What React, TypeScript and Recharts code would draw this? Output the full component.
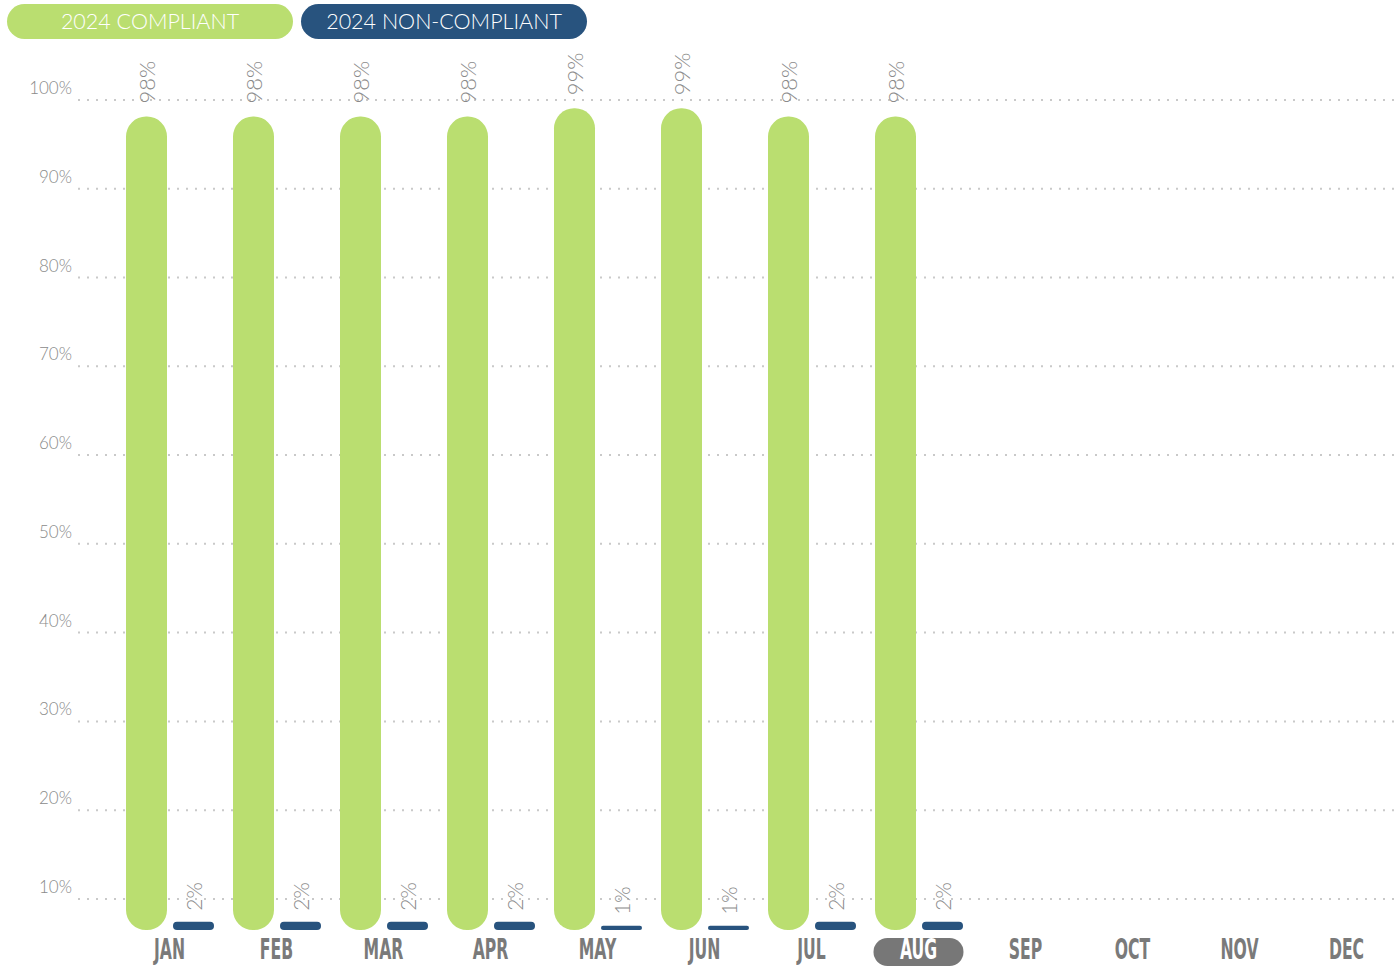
import { Bar, BarChart, CartesianGrid, XAxis, YAxis } from 'recharts';

const MONTHS = ['JAN', 'FEB', 'MAR', 'APR', 'MAY', 'JUN', 'JUL', 'AUG', 'SEP', 'OCT', 'NOV', 'DEC'];
const COMPLIANT = [98, 98, 98, 98, 99, 99, 98, 98, null, null, null, null];
const NON_COMPLIANT = [2, 2, 2, 2, 1, 1, 2, 2, null, null, null, null];
const Y_TICKS = [10, 20, 30, 40, 50, 60, 70, 80, 90, 100];
const CURRENT_MONTH = 'AUG';

const GREEN = '#bade70';
const BLUE = '#28537e';
const GRAY = '#8a8a8a';
const FONT = 'Lato, "Noto Sans", sans-serif';

// chart frame
const W = 1400;
const H = 967;
const TOP = 100;
const X_AXIS_H = 37;
const PLOT_BOTTOM = H - X_AXIS_H;
const Y_AXIS_W = 78;

const data = MONTHS.map((m, i) => ({
  month: m,
  compliant: COMPLIANT[i],
  nonCompliant: NON_COMPLIANT[i],
}));

// y-axis labels sit just above their dotted line, right-aligned to the axis gutter
function YTick(props: any) {
  const { y, payload } = props;
  return (
    <text x={Y_AXIS_W - 6} y={y - 6} textAnchor="end" fill={GRAY} fontSize={17} fontFamily={FONT} fontWeight={300}>
      {payload.value}%
    </text>
  );
}

// condensed bold month labels; current month gets a gray pill
function MonthTick(props: any) {
  const { x, payload } = props;
  const active = payload.value === CURRENT_MONTH;
  return (
    <g>
      {active && <rect x={x - 45} y={PLOT_BOTTOM + 8} width={90} height={28} rx={14} fill="#777" />}
      <text
        transform={`translate(${x},${PLOT_BOTTOM + 29}) scale(0.54,1)`}
        textAnchor="middle"
        fill={active ? '#fff' : '#7a7a7a'}
        fontSize={29}
        fontWeight={700}
        fontFamily='"DejaVu Sans", sans-serif'
      >
        {payload.value}
      </text>
    </g>
  );
}

function makeLabel(gap: number, size: number) {
  return (props: any) => {
    const { x, y, width, value } = props;
    if (value == null) return null;
    const cx = x + width / 2;
    const cy = y - gap;
    return (
      <text
        transform={`translate(${cx},${cy}) rotate(-90)`}
        textAnchor="start"
        dominantBaseline="central"
        fill={GRAY}
        fontSize={size}
        fontFamily={FONT}
        fontWeight={300}
      >
        {value}%
      </text>
    );
  };
}

// dotted grid, but skip the line recharts adds at the plot floor
function GridLine(props: any) {
  const { x1, x2, y1, y2, stroke, strokeWidth, strokeDasharray } = props;
  if (y1 > PLOT_BOTTOM - 1) return null;
  return (
    <line x1={x1} x2={x2} y1={y1} y2={y2} stroke={stroke} strokeWidth={strokeWidth} strokeDasharray={strokeDasharray} />
  );
}

function LegendPill({ color, text, left }: { color: string; text: string; left: number }) {
  return (
    <div
      style={{
        position: 'absolute',
        left,
        top: 4,
        width: 286,
        height: 35,
        borderRadius: 18,
        background: color,
        color: '#fff',
        fontFamily: FONT,
        fontWeight: 300,
        fontSize: 21.5,
        lineHeight: '35px',
        textAlign: 'center',
      }}
    >
      {text}
    </div>
  );
}

export default function App() {
  return (
    <div style={{ position: 'absolute', left: 0, top: 0, width: W, height: H, background: '#fff', overflow: 'hidden' }}>
      <BarChart
        width={W}
        height={H}
        data={data}
        margin={{ top: TOP, right: 0, bottom: 0, left: 0 }}
        barSize={41}
        barGap={6}
      >
        <CartesianGrid
          yAxisId="grid"
          vertical={false}
          horizontal={<GridLine />}
          stroke="#c9c9c9"
          strokeWidth={2}
          strokeDasharray="2 7"
        />
        <XAxis
          dataKey="month"
          axisLine={false}
          tickLine={false}
          tickSize={0}
          tickMargin={0}
          height={X_AXIS_H}
          tick={<MonthTick />}
          interval={0}
          padding={{ left: 38, right: 0 }}
        />
        <YAxis
          yAxisId="grid"
          domain={[6.5, 100]}
          ticks={Y_TICKS}
          axisLine={false}
          tickLine={false}
          tickSize={0}
          tickMargin={6}
          width={Y_AXIS_W}
          tick={<YTick />}
          allowDataOverflow
        />
        <YAxis yAxisId="bar" domain={[0, 100]} hide allowDataOverflow />
        <YAxis yAxisId="nc" domain={[0, 200]} hide allowDataOverflow />
        <Bar
          yAxisId="bar"
          dataKey="compliant"
          fill={GREEN}
          radius={[20, 20, 20, 20]}
          isAnimationActive={false}
          label={makeLabel(13, 22)}
        />
        <Bar
          yAxisId="nc"
          dataKey="nonCompliant"
          fill={BLUE}
          radius={[4, 4, 4, 4]}
          isAnimationActive={false}
          label={makeLabel(11, 21)}
        />
      </BarChart>
      <LegendPill color={GREEN} text="2024 COMPLIANT" left={7} />
      <LegendPill color={BLUE} text="2024 NON-COMPLIANT" left={301} />
    </div>
  );
}
